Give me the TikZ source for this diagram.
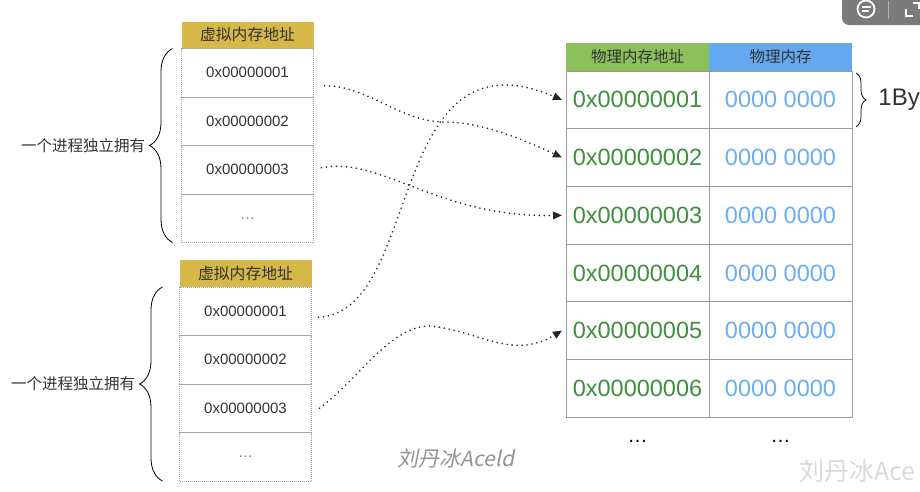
\documentclass[tikz,border=0pt]{standalone}
\usepackage{fontspec}
\setmainfont{Liberation Sans}
\newfontfamily\cjk{Noto Sans CJK SC}
\newfontfamily\wmfont{Noto Sans CJK SC}[FakeSlant=0.2]
\usetikzlibrary{arrows.meta,positioning,
  decorations.pathreplacing}

\definecolor{vhead}{HTML}{D5B847}
\definecolor{phead}{HTML}{8BC05A}
\definecolor{bhead}{HTML}{64A9EF}
\definecolor{paddr}{HTML}{3F8F3F}
\definecolor{pbyte}{HTML}{6BAEF2}
\definecolor{txt}{HTML}{333333}
\definecolor{uigray}{HTML}{7B7B7B}

\tikzset{
  vhd/.style={fill=vhead,minimum width=132pt,minimum height=27pt,
    inner sep=0pt,outer sep=0pt,text=txt,
    font=\cjk\fontsize{15.8}{15.8}\selectfont},
  vcell/.style={draw=gray!70,dash pattern=on 1pt off 1pt,
    minimum width=132pt,minimum height=48.5pt,inner sep=0pt,
    outer sep=0pt,text=txt,font=\fontsize{15}{15}\selectfont},
  phd/.style={minimum width=143pt,minimum height=28pt,inner sep=0pt,
    outer sep=0pt,text=txt,font=\cjk\fontsize{15.5}{15.5}\selectfont},
  pcell/.style={draw=gray!80,line width=1pt,minimum width=143pt,
    minimum height=57.7pt,inner sep=0pt,outer sep=0pt,
    font=\fontsize{23.5}{23.5}\selectfont},
  brc/.style={decorate,decoration={brace,amplitude=#1},line width=.8pt},
  own/.style={inner sep=0pt,text=txt,font=\cjk\fontsize{15.5}{15.5}\selectfont},
  mapline/.style={draw=black!85,line width=1.8pt,line cap=round,
    dash pattern=on 0pt off 5pt,
    -{Triangle[length=9pt,width=7.5pt]}}
}

\begin{document}
\begin{tikzpicture}[x=1pt,y=-1pt]
  \useasboundingbox (0,0) rectangle (920,491);
  % virtual memory, first process
  \node[vhd](vha) at (247.5,35){虚拟内存地址};
  \node[vcell,below=0pt of vha](va1){0x00000001};
  \node[vcell,below=0pt of va1](va2){0x00000002};
  \node[vcell,below=0pt of va2](va3){0x00000003};
  \node[vcell,below=0pt of va3](va4){\textcolor{gray}{…}};
  % virtual memory, second process
  \node[vhd](vhb) at (245.5,273.5){虚拟内存地址};
  \node[vcell,below=0pt of vhb](vb1){0x00000001};
  \node[vcell,below=0pt of vb1](vb2){0x00000002};
  \node[vcell,below=0pt of vb2](vb3){0x00000003};
  \node[vcell,below=0pt of vb3](vb4){\textcolor{gray}{…}};
  % braces
  \draw[brc=23pt]([xshift=-9pt]va4.south west)--([xshift=-9pt]va1.north west)
    node[own,midway,left=27pt](owna){一个进程独立拥有};
  \draw[brc=23pt]([xshift=-17pt]vb4.south west)--([xshift=-17pt]vb1.north west)
    node[own,midway,left=27pt](ownb){一个进程独立拥有};
  % physical memory
  \node[phd,fill=phead](ph1) at (637.5,57){物理内存地址};
  \node[phd,fill=bhead,right=0pt of ph1](ph2){物理内存};
  \node[pcell,text=paddr,below=0pt of ph1](pa1){0x00000001};
  \foreach \i [count=\j from 2] in {1,...,5}
    \node[pcell,text=paddr,below=0pt of pa\i](pa\j){0x0000000\j};
  \foreach \i in {1,...,6}
    \node[pcell,text=pbyte,right=0pt of pa\i](pv\i){0000 0000};
  \node[font=\fontsize{20}{20}\selectfont,below=20pt of pa6](pda){…};
  \node[font=\fontsize{20}{20}\selectfont,below=20pt of pv6](pdb){…};
  \draw[brc=10pt]([shift={(4,2)}]pv1.north east)--([shift={(4,-2)}]pv1.south east)
    node[midway,right=22pt,inner sep=0pt,text=txt,
      font=\fontsize{24}{24}\selectfont](byte){1By};
  % mappings
  \coordinate (m1) at (445,122);
  \coordinate (m4) at (430,326);
  \draw[mapline]([shift={(11,13)}]va1.east)..controls +(44,0) and +(-45,0)..(m1)
    ..controls +(40,0) and +(-30,-14)..([xshift=-4pt]pa2.west);
  \draw[mapline]([shift={(8,-2)}]va3.east)..controls +(58,-12) and +(-122,3)..
    ([xshift=-4pt]pa3.west);
  \draw[mapline]([shift={(7,6)}]vb1.east)..controls +(105,-5) and +(-177,-75)..
    ([xshift=-4pt]pa1.west);
  \draw[mapline]([xshift=8pt]vb3.east)..controls +(40,-30) and +(-40,0)..(m4)
    ..controls +(50,5) and +(-50,30)..([xshift=-4pt]pa5.west);
  % watermarks
  \node[text=gray!85,font=\wmfont\fontsize{21}{21}\selectfont](wma) at (456,459){刘丹冰Aceld};
  \node[anchor=west,inner sep=0pt,text=gray!30,
    font=\cjk\fontsize{25}{25}\selectfont](wmb) at (799,471){刘丹冰Ace};
  % viewer buttons
  \fill[uigray,rounded corners=7pt](842,-12) rectangle (935,25);
  \draw[white,line width=1.8pt](866,9) circle[radius=8.5];
  \draw[white,line width=1.4pt](862,7)--(871,7) (862,11)--(869,11);
  \draw[gray!60,line width=.8pt](888,1)--(888,19);
  \draw[white,line width=1.5pt](906,9)--(906,16)--(913,16) (913,3)--(919,3)--(919,9);
\end{tikzpicture}
\end{document}
